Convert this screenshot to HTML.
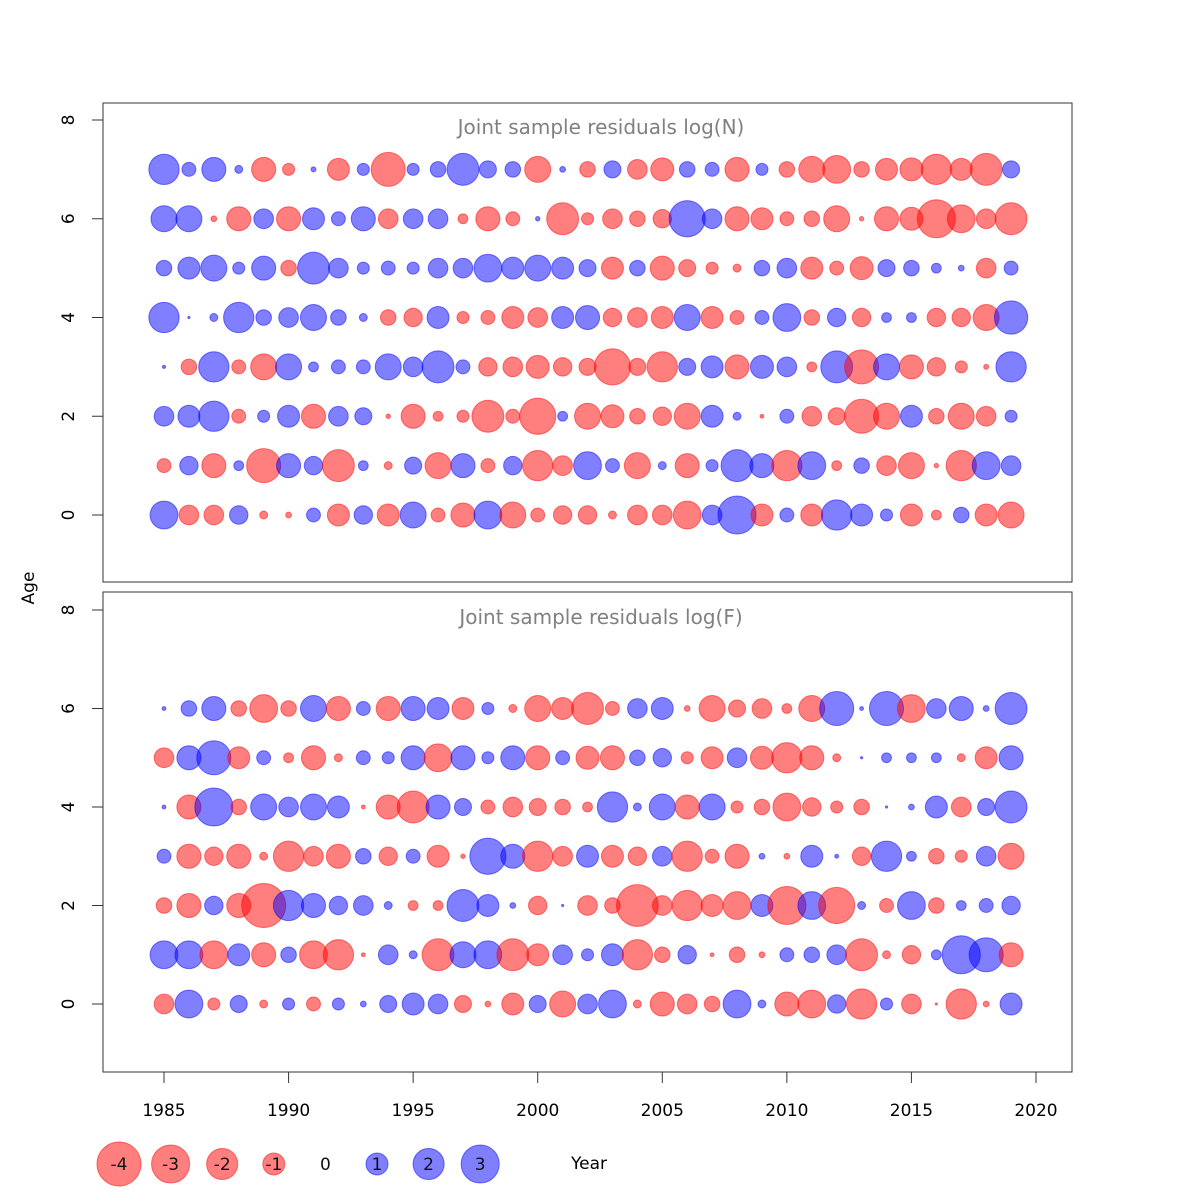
<!DOCTYPE html>
<html><head><meta charset="utf-8"><style>
body{margin:0;background:#fff}
svg{display:block;font-family:"DejaVu Sans","Liberation Sans",sans-serif}
</style></head><body>
<svg id="chart" width="1200" height="1200" viewBox="0 0 1200 1200" xmlns="http://www.w3.org/2000/svg">
<rect width="1200" height="1200" fill="#fff"/>
<g id="top-panel"></g>
<g id="bot-panel"></g>
<g id="xaxis"></g>
<g id="legend"></g>
<text x="34" y="588" font-size="17" text-anchor="middle" transform="rotate(-90 34 588)">Age</text>
<text x="589" y="1169" font-size="17" text-anchor="middle">Year</text>
</svg>
<script>
const years = [];
for (let y = 1985; y <= 2019; y++) years.push(y);
const xTicks = [1985,1990,1995,2000,2005,2010,2015,2020];
const yTicks = [0,2,4,6,8];
const legendValues = [-4,-3,-2,-1,0,1,2,3];

// log(N) residuals, ages 0..7
const resN0 = [1.6,-0.8,-0.8,0.7,-0.13,-0.07,0.4,-1.0,0.7,-1.0,1.4,-0.4,-1.2,1.6,-1.4,-0.4,-0.7,-0.7,-0.13,-0.8,-0.8,-1.6,0.8,3.0,-1.0,0.4,-1.0,1.9,1.0,0.3,-1.0,-0.2,0.5,-1.0,-1.4];
const resN1 = [-0.4,0.7,-1.2,0.2,-2.4,1.2,0.7,-2.1,0.2,-0.13,0.6,-1.4,1.2,-0.4,0.7,-1.9,-0.8,1.6,0.4,-1.4,0.13,-1.2,0.3,2.1,1.2,-1.9,1.6,-0.2,0.5,-0.8,-1.4,-0.04,-1.9,1.6,0.8];
const resN2 = [0.8,1.0,1.9,-0.4,0.3,1.0,-1.2,0.8,0.6,-0.04,-1.2,-0.2,-0.3,-2.1,-0.4,-2.7,0.2,-1.4,-1.1,-0.5,-0.7,-1.4,1.0,0.13,-0.03,0.4,-0.8,-0.6,-2.4,-1.4,1.0,-0.5,-1.4,-0.8,0.3];
const resN3 = [0.02,-0.5,1.9,-0.4,-1.4,1.4,0.2,0.4,0.4,1.4,0.8,2.1,0.4,-0.7,-0.8,-1.1,-0.7,-0.6,-2.7,-0.6,-1.9,0.6,1.0,-1.2,1.1,0.8,-0.2,2.1,-2.4,1.4,-1.2,-0.7,-0.3,-0.05,1.9];
const resN4 = [1.9,0.01,0.13,1.9,0.5,0.8,1.4,0.5,0.13,-0.5,-0.7,1.0,-0.3,-0.4,-1.0,-0.8,1.0,1.2,-0.7,-0.8,-1.0,1.4,-1.0,-0.4,0.4,1.6,-0.5,0.7,-0.7,0.2,0.2,-0.7,-0.7,-1.4,2.3];
const resN5 = [0.5,1.0,1.4,0.3,1.2,-0.5,2.1,0.8,0.3,0.4,0.3,0.8,0.8,1.6,1.0,1.4,1.0,0.6,-1.0,0.5,-1.2,-0.6,-0.3,-0.13,0.5,0.8,-1.0,-0.4,-1.1,0.6,0.5,0.2,0.07,-0.8,0.4];
const resN6 = [1.4,1.4,-0.07,-1.2,0.8,-1.2,1.0,0.4,1.2,-0.8,0.8,0.8,-0.2,-1.2,-0.4,0.04,-2.1,-0.3,-0.8,-0.5,-0.7,2.7,0.8,-1.2,-1.0,-0.4,-0.5,-1.4,-0.04,-1.2,-1.1,-3.0,-1.6,-0.8,-2.1];
const resN7 = [1.9,0.4,1.2,0.13,-1.2,-0.3,0.05,-1.0,0.3,-2.4,0.3,0.5,2.1,0.6,0.5,-1.4,0.07,-0.5,0.6,-0.8,-1.1,0.5,0.4,-1.2,0.3,-0.5,-1.4,-1.6,-0.5,-1.0,-1.1,-1.9,-1.0,-2.1,0.6];

// log(F) residuals, ages 0..6
const resF0 = [-0.8,1.6,-0.3,0.6,-0.13,0.3,-0.4,0.3,0.07,0.6,1.0,0.8,-0.6,-0.07,-1.0,0.6,-1.4,0.8,1.6,-0.13,-1.2,-0.8,-0.5,1.6,0.13,-1.2,-1.6,0.7,-1.9,0.3,-0.8,-0.01,-1.9,-0.07,1.0];
const resF1 = [1.6,1.6,-1.6,1.0,-1.2,0.5,-1.6,-1.9,-0.03,0.8,0.13,-2.1,1.4,1.6,-2.1,-1.0,0.8,0.3,1.0,-1.9,-0.5,0.7,-0.03,-0.5,-0.07,0.4,0.5,0.8,-2.1,-0.13,-0.7,0.2,3.0,2.4,-1.2];
const resF2 = [-0.5,-1.2,0.7,-1.2,-4.0,1.9,1.2,0.7,0.8,0.13,-0.2,-0.2,2.1,1.0,0.07,-0.7,0.01,-0.8,-0.5,-3.6,-0.8,-1.9,-1.0,-1.6,1.0,-3.0,1.6,-2.7,0.13,-0.4,1.6,-0.5,0.2,0.4,0.7];
const resF3 = [0.4,-1.2,-0.7,-1.2,-0.13,-1.9,-0.8,-1.2,0.5,-0.7,0.4,-1.0,-0.04,2.7,1.2,-1.9,-0.8,1.0,-1.0,-0.7,0.8,-1.9,-0.4,-1.2,0.07,-0.07,1.0,0.03,-0.7,1.9,0.2,-0.5,-0.3,0.8,-1.4];
const resF4 = [0.03,-1.2,3.0,-0.5,1.4,0.8,1.4,1.0,-0.03,-1.2,-2.1,1.2,0.6,-0.4,-0.8,-0.6,-0.5,-0.2,1.9,0.13,1.4,-1.2,1.4,-0.3,-0.5,-1.6,-0.7,-0.3,-0.5,0.01,0.07,1.0,-0.8,0.6,2.1];
const resF5 = [-0.8,1.2,2.4,-1.0,0.4,-0.2,-1.2,-0.13,0.4,0.3,1.2,-1.6,1.2,0.3,1.2,-1.2,0.4,-1.1,-1.2,0.5,0.7,-0.3,-1.0,0.8,-1.1,-1.9,-1.2,-0.13,0.01,0.2,0.2,0.2,-0.13,-1.0,1.2];
const resF6 = [0.03,0.5,1.2,-0.5,-1.6,-0.5,1.4,-1.2,0.4,-1.2,1.2,1.0,-1.0,0.3,-0.13,-1.4,-1.0,-2.1,-0.4,0.8,1.0,-0.07,-1.4,-0.6,-0.8,-0.2,-1.4,2.4,0.03,2.4,-1.6,0.8,1.2,0.07,2.1];

const panelN = [resN0,resN1,resN2,resN3,resN4,resN5,resN6,resN7];
const panelF = [resF0,resF1,resF2,resF3,resF4,resF5,resF6];

const NS = "http://www.w3.org/2000/svg";
function mk(tag, attrs, parent){const e=document.createElementNS(NS,tag);for(const k in attrs)e.setAttribute(k,attrs[k]);parent.appendChild(e);return e;}
const xScale = yr => 164 + (yr - 1985) * (872 / 35);
const rScale = v => 11 * Math.sqrt(Math.abs(v));
const RED = "rgba(255,0,0,0.5)", BLUE = "rgba(0,0,255,0.5)";

function drawPanel(g, top, bottom, y0, y8, title, titleY, rows, prefix){
  const yScale = a => y0 + (y8 - y0) * a / 8;
  const box = mk("rect",{x:103,y:top,width:969,height:bottom-top,fill:"none",stroke:"#333","stroke-width":1},g);
  
  
  yTicks.forEach(t=>{
    const ln = mk("line",{x1:92,x2:103,y1:yScale(t),y2:yScale(t),stroke:"#333"},g);
    
    
    const yy = yScale(t);
    const tx = mk("text",{x:74,y:yy,"font-size":17,"text-anchor":"middle",transform:`rotate(-90 74 ${yy})`},g);
    tx.textContent = t;
    
    
  });
  const tt = mk("text",{x:601,y:titleY,"font-size":20,"text-anchor":"middle",fill:"#808080"},g);
  tt.textContent = title;
  
  
  rows.forEach((vals, age)=>{
    vals.forEach((v, i)=>{
      const c = v < 0 ? RED : BLUE;
      const ci = mk("circle",{cx:xScale(years[i]),cy:yScale(age),r:rScale(v),fill:c,stroke:c,"stroke-width":1},g);
      
      
    });
  });
}
drawPanel(document.getElementById("top-panel"),103,582,515,120,"Joint sample residuals log(N)",134,panelN,"log-n");
drawPanel(document.getElementById("bot-panel"),592,1072,1004,610,"Joint sample residuals log(F)",624,panelF,"log-f");

const xa = document.getElementById("xaxis");
const axl = mk("line",{x1:xScale(1985),x2:xScale(2020),y1:1072,y2:1072,stroke:"#333"},xa);


xTicks.forEach(t=>{
  const ln = mk("line",{x1:xScale(t),x2:xScale(t),y1:1072,y2:1083,stroke:"#333"},xa);
  
  
  const tx = mk("text",{x:xScale(t),y:1116,"font-size":17,"text-anchor":"middle"},xa);
  tx.textContent = t;
  
  
});

const lg = document.getElementById("legend");
legendValues.forEach((v,i)=>{
  const x = 119 + i * 51.6;
  if (v !== 0) {
    const c = v < 0 ? RED : BLUE;
    const ci = mk("circle",{cx:x,cy:1164,r:rScale(v),fill:c,stroke:c},lg);
    
    
  }
  const tx = mk("text",{x:x,y:1170,"font-size":17,"text-anchor":"middle",fill:"#111"},lg);
  tx.textContent = v;
  
  
});
</script>
</body></html>
